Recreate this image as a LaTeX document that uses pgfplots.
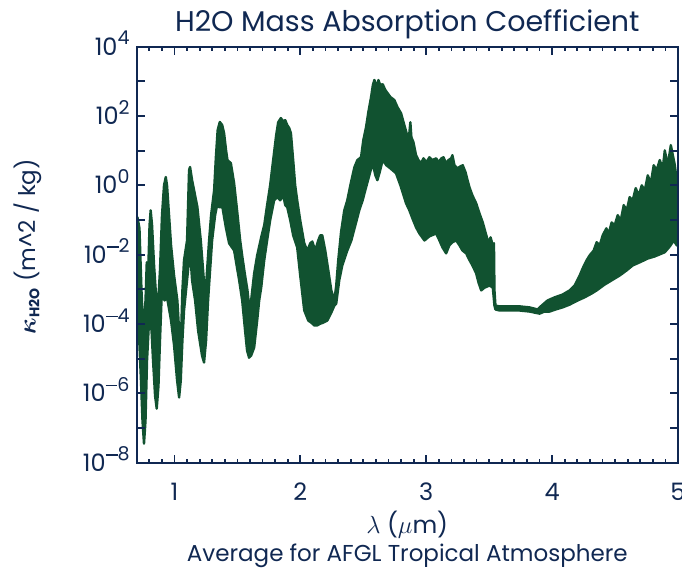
\documentclass[border=0pt]{standalone}
\usepackage{pgfplots}
\pgfplotsset{compat=1.18}
\usepackage{pgfplotstable}
\usepackage{bm}
\usepackage{fontspec}
\setmainfont{Poppins}

\definecolor{navy}{RGB}{16,40,82}
\definecolor{h2o}{RGB}{17,82,48}

\newcommand{\mn}{\rule[0.28em]{0.62em}{0.075em}}
\newcommand{\tp}[1]{10\raisebox{0.42em}{\fontsize{19bp}{19bp}\selectfont #1}}

% outline of the band: upper envelope left to right, then lower envelope right to left
% x in micron, lg = log10(kappa)
\pgfplotstableread{
x lg
0.700 -1.59
0.706 -0.92
0.722 -1.24
0.738 -3.03
0.754 -4.33
0.770 -3.32
0.780 -2.22
0.786 -3.18
0.802 -1.15
0.811 -0.72
0.822 -1.15
0.838 -2.31
0.854 -3.18
0.869 -3.47
0.885 -2.45
0.901 -0.86
0.917 0.00
0.931 0.24
0.941 0.00
0.949 -0.43
0.973 -1.73
0.997 -2.60
1.023 -3.32
1.037 -4.19
1.050 -4.62
1.063 -3.03
1.076 -2.16
1.100 -1.59
1.116 0.44
1.124 0.53
1.140 0.15
1.164 -0.29
1.182 -0.62
1.209 -1.59
1.235 -2.80
1.249 -3.03
1.259 -2.45
1.275 -1.59
1.291 -0.86
1.315 -0.14
1.329 0.81
1.343 1.59
1.360 1.83
1.379 1.74
1.394 1.51
1.410 1.01
1.421 0.73
1.448 0.64
1.474 0.06
1.500 -0.81
1.522 -1.59
1.540 -2.08
1.561 -2.60
1.580 -3.03
1.593 -3.47
1.609 -3.32
1.633 -2.54
1.657 -2.02
1.689 -1.50
1.713 -1.15
1.736 -0.57
1.760 0.00
1.784 0.73
1.808 1.45
1.824 1.82
1.845 1.94
1.864 1.85
1.880 1.88
1.896 1.74
1.912 1.65
1.925 1.51
1.943 0.73
1.959 0.00
1.975 -0.43
1.999 -1.01
2.031 -1.67
2.055 -1.88
2.079 -1.67
2.095 -1.62
2.118 -1.88
2.142 -1.59
2.158 -1.44
2.174 -1.44
2.198 -1.88
2.222 -2.45
2.246 -3.03
2.270 -3.32
2.285 -2.89
2.301 -2.16
2.323 -1.36
2.349 -0.72
2.373 -0.43
2.397 0.00
2.429 0.52
2.453 0.73
2.482 0.81
2.500 1.30
2.522 1.68
2.540 2.11
2.562 2.55
2.576 2.89
2.588 3.04
2.604 2.92
2.612 2.60
2.620 3.04
2.635 2.89
2.654 2.92
2.675 2.75
2.693 2.66
2.715 2.55
2.747 2.46
2.771 2.26
2.800 2.08
2.826 1.74
2.853 1.39
2.866 1.51
2.874 1.82
2.882 1.39
2.898 1.25
2.919 0.87
2.938 0.73
2.959 0.64
2.978 0.78
3.002 0.67
3.025 0.81
3.049 0.73
3.079 0.78
3.097 0.67
3.121 0.78
3.137 0.81
3.158 0.64
3.177 0.73
3.198 0.78
3.208 0.87
3.224 0.58
3.248 0.49
3.272 0.55
3.290 0.58
3.312 0.38
3.328 0.15
3.344 -0.06
3.367 -0.29
3.397 -0.52
3.423 -0.81
3.449 -1.07
3.471 -1.36
3.495 -1.67
3.511 -1.50
3.529 -1.73
3.538 -1.67
3.542 -3.03
3.550 -3.47
3.582 -3.49
3.662 -3.49
3.741 -3.49
3.821 -3.52
3.885 -3.58
3.916 -3.47
3.964 -3.32
4.020 -3.23
4.083 -3.15
4.139 -3.03
4.179 -2.89
4.219 -2.60
4.242 -2.40
4.274 -2.16
4.298 -2.02
4.330 -1.88
4.354 -1.64
4.378 -1.73
4.402 -1.44
4.431 -1.24
4.449 -1.39
4.473 -1.07
4.497 -1.15
4.521 -0.86
4.545 -1.01
4.569 -0.57
4.593 -0.72
4.616 -0.34
4.640 -0.43
4.664 -0.08
4.688 -0.29
4.712 0.00
4.736 -0.14
4.760 0.29
4.784 0.06
4.807 0.58
4.831 0.44
4.855 0.73
4.879 0.49
4.895 1.01
4.919 0.58
4.943 1.16
4.959 0.87
4.974 0.60
4.990 0.15
5.000 0.00
5.000 -1.67
4.990 -1.73
4.967 -1.59
4.935 -1.76
4.895 -1.93
4.855 -1.99
4.815 -2.05
4.760 -2.11
4.696 -2.22
4.640 -2.31
4.593 -2.45
4.537 -2.60
4.473 -2.74
4.418 -2.86
4.354 -3.03
4.314 -3.12
4.258 -3.23
4.203 -3.32
4.139 -3.44
4.083 -3.52
4.028 -3.58
3.980 -3.64
3.940 -3.64
3.900 -3.70
3.821 -3.64
3.741 -3.61
3.662 -3.61
3.582 -3.61
3.550 -3.58
3.542 -3.47
3.529 -2.95
3.503 -2.89
3.463 -2.95
3.437 -3.03
3.415 -2.80
3.397 -2.54
3.367 -2.31
3.344 -2.16
3.317 -1.96
3.288 -1.88
3.264 -1.73
3.238 -1.59
3.208 -1.64
3.184 -1.73
3.158 -1.96
3.129 -1.79
3.105 -1.59
3.079 -1.39
3.025 -1.47
2.986 -1.59
2.946 -1.39
2.919 -1.21
2.890 -0.95
2.866 -0.72
2.840 -0.52
2.795 0.00
2.760 0.35
2.715 0.49
2.683 0.58
2.654 0.73
2.628 0.35
2.612 0.15
2.596 0.29
2.574 0.64
2.548 0.29
2.516 -0.14
2.495 -0.43
2.468 -0.72
2.437 -1.15
2.405 -1.59
2.373 -1.88
2.333 -2.31
2.309 -2.74
2.285 -3.41
2.270 -3.47
2.246 -3.67
2.214 -3.90
2.182 -3.96
2.158 -3.99
2.134 -4.04
2.110 -4.04
2.087 -3.96
2.063 -3.90
2.031 -3.61
1.999 -2.60
1.975 -1.79
1.943 -1.44
1.920 -1.01
1.896 -0.63
1.880 -0.57
1.864 -0.29
1.840 -0.43
1.816 -0.34
1.792 -0.43
1.760 -1.01
1.736 -1.59
1.713 -2.16
1.689 -2.95
1.673 -3.32
1.657 -3.90
1.633 -4.68
1.609 -4.91
1.593 -4.97
1.577 -4.77
1.561 -4.19
1.538 -3.32
1.514 -2.74
1.474 -1.88
1.434 -1.67
1.408 -1.21
1.381 -0.63
1.355 -0.63
1.339 -0.57
1.323 -0.86
1.299 -1.59
1.283 -2.45
1.267 -3.32
1.251 -4.48
1.235 -5.11
1.219 -4.91
1.188 -4.19
1.164 -3.32
1.140 -2.74
1.124 -1.88
1.116 -2.16
1.100 -2.74
1.076 -3.61
1.063 -4.48
1.050 -5.63
1.037 -6.12
1.021 -5.63
0.997 -4.62
0.973 -3.90
0.941 -3.23
0.921 -3.32
0.909 -3.18
0.897 -3.32
0.885 -4.48
0.873 -5.78
0.859 -6.44
0.846 -6.07
0.830 -5.06
0.818 -4.19
0.806 -3.90
0.794 -4.19
0.782 -5.06
0.770 -6.79
0.758 -7.45
0.746 -6.79
0.734 -5.63
0.722 -4.62
0.710 -3.61
0.700 -4.27
}\bandtab

\begin{document}
\begin{tikzpicture}
\begin{axis}[
  at={(0,0)}, anchor=south west,
  scale only axis,
  width=541.3bp, height=416bp,
  xmin=0.7, xmax=5,
  ymin=-8, ymax=4,
  xtick={1,2,3,4,5},
  minor xtick={0.7,0.8,...,5.0},
  ytick={-8,-7,...,4},
  yticklabels={\tp{\mn8},,\tp{\mn6},,\tp{\mn4},,\tp{\mn2},,\tp{0},,\tp{2},,\tp{4}},
  /pgf/number format/assume math mode=true,
  axis on top,
  tick align=inside,
  major tick length=8bp,
  minor tick length=4bp,
  axis line style={draw=navy, line width=2.2bp},
  tick style={draw=navy, line width=1.8bp},
  tick label style={font=\fontsize{24bp}{24bp}\selectfont, text=navy, inner sep=0pt},
  xticklabel style={anchor=base, yshift=-38bp},
  yticklabel style={anchor=base east, xshift=-7bp, yshift=-8.3bp},
]
\addplot[draw=h2o, fill=h2o, line width=2.4bp, line join=round] table[x=x, y=lg] {\bandtab} -- cycle;
\end{axis}
% tick marks on the frame (axis box is 541.3bp x 416bp, 0.7 to 5 and 1e-8 to 1e4)
\begin{scope}[navy]
\foreach \i in {1,...,42} {
  \draw[line width=1.6bp] (\i*12.5884bp,0) -- ++(0,4bp);
  \draw[line width=1.6bp] (\i*12.5884bp,416bp) -- ++(0,-4bp);
}
\foreach \t in {1,2,3,4} {
  \draw[line width=1.8bp] ({(\t-0.7)*125.884bp},0) -- ++(0,8bp);
  \draw[line width=1.8bp] ({(\t-0.7)*125.884bp},416bp) -- ++(0,-8bp);
}
\foreach \j in {1,...,11} {
  \draw[line width=1.8bp] (0,\j*34.6667bp) -- ++(8bp,0);
  \draw[line width=1.8bp] (541.3bp,\j*34.6667bp) -- ++(-8bp,0);
}
\end{scope}
\node[anchor=base, text=navy, inner sep=0pt, font=\fontsize{28.5bp}{30bp}\selectfont] at (270.6bp,431bp) {H2O Mass Absorption Coefficient};
\node[anchor=base, text=navy, inner sep=0pt, font=\fontsize{24bp}{24bp}\selectfont] at (270.6bp,-70.7bp) {$\lambda$ ($\mu$m)};
\node[anchor=base, text=navy, inner sep=0pt, font=\fontsize{23bp}{24bp}\selectfont] at (270.6bp,-99bp) {Average for AFGL Tropical Atmosphere};
\node[rotate=90, text=navy, inner sep=0pt, font=\fontsize{23bp}{24bp}\selectfont] at (-108.7bp,216bp) {$\bm{\kappa}_{\textbf{\fontsize{14bp}{14bp}\selectfont H2O}}$ (m\textasciicircum2 / kg)};
\pgfresetboundingbox
\path[use as bounding box] (-136.7bp,-106.3bp) rectangle (545.3bp,462.7bp);
\end{tikzpicture}
\end{document}
